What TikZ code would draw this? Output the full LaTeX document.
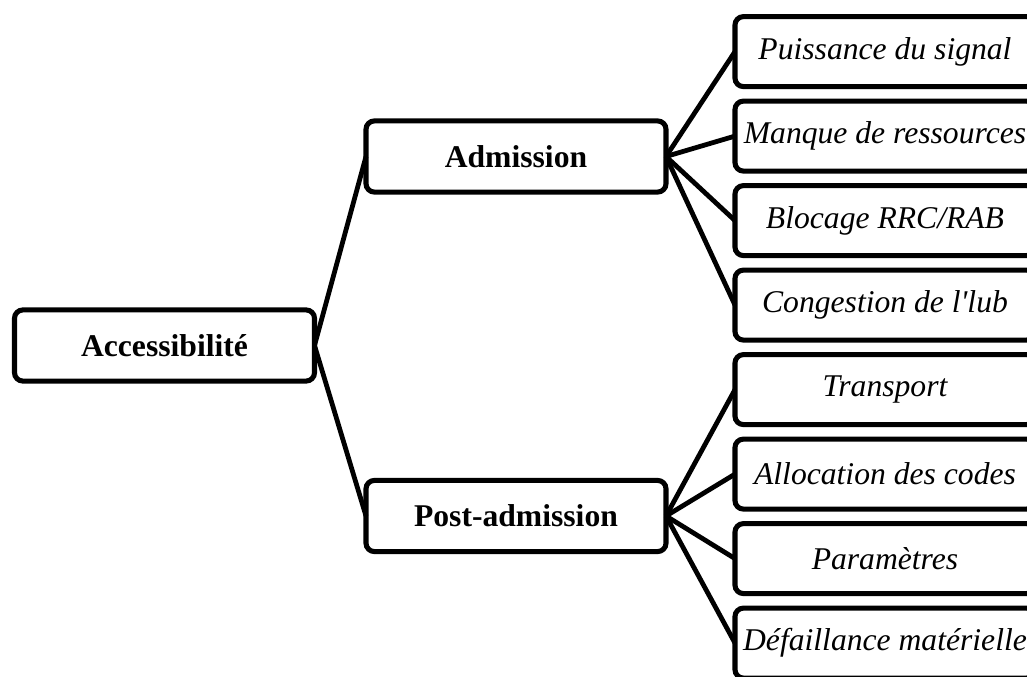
\documentclass[tikz,border=0pt]{standalone}
\usepackage{fontspec}
\setmainfont{Liberation Serif}
\usepackage{tikz}
\usetikzlibrary{positioning}

\begin{document}
\begin{tikzpicture}[
racine/.style={draw,line width=3.6pt,rounded corners=6pt,fill=white,minimum width=7.5cm,minimum height=1.78cm,outer sep=0pt,align=center,font=\fontsize{22.5}{27}\selectfont\bfseries},
cause/.style={draw,line width=3.6pt,rounded corners=6pt,fill=white,minimum width=7.5cm,minimum height=1.75cm,outer sep=0pt,align=center,font=\fontsize{22.5}{27}\selectfont\itshape},
lien/.style={line width=3.4pt}
]
\clip (0,0) rectangle (25.675,-16.925);
\fill[white] (0,0) rectangle (25.675,-16.925);

\node[racine] (acces) at (4.1125,-8.6375) {Accessibilité};
\node[racine] (admission) at (12.9,-3.9125) {Admission};
\node[racine] (postadm) at (12.9,-12.9) {Post-admission};

\node[cause] (puissance) at (22.125,-1.29) {Puissance du signal};
\node[cause,below=0.3625cm of puissance] (manque) {Manque de ressources};
\node[cause,below=0.3625cm of manque] (blocage) {Blocage RRC/RAB};
\node[cause,below=0.3625cm of blocage] (congestion) {Congestion de l\textquotesingle lub};
\node[cause,below=0.3625cm of congestion] (transport) {Transport};
\node[cause,below=0.3625cm of transport] (allocation) {Allocation des codes};
\node[cause,below=0.3625cm of allocation] (parametres) {Paramètres};
\node[cause,below=0.3625cm of parametres] (defaillance) {Défaillance matérielle};

\draw[lien] (acces.east) -- (admission.west);
\draw[lien] (acces.east) -- (postadm.west);

\draw[lien] (admission.east) -- (puissance.west);
\draw[lien] (admission.east) -- (manque.west);
\draw[lien] (admission.east) -- (blocage.west);
\draw[lien] (admission.east) -- (congestion.west);

\draw[lien] (postadm.east) -- (transport.west);
\draw[lien] (postadm.east) -- (allocation.west);
\draw[lien] (postadm.east) -- (parametres.west);
\draw[lien] (postadm.east) -- (defaillance.west);
\end{tikzpicture}
\end{document}
